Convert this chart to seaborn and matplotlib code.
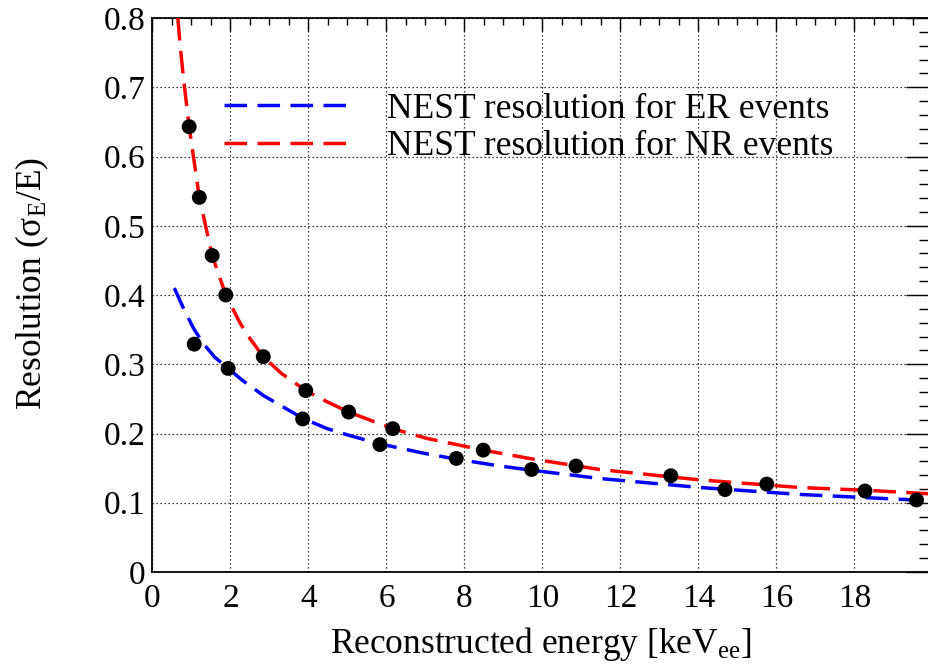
import numpy as np
import pandas as pd
import matplotlib
matplotlib.use("Agg")
import matplotlib.pyplot as plt
from matplotlib.ticker import MultipleLocator, FixedLocator, FuncFormatter
import seaborn as sns

# NEST resolution curves (energy in keVee, resolution sigma_E/E)
er_energy = [0.56, 0.80, 1.05, 1.30, 1.60, 1.94, 2.30, 2.84, 3.85, 4.48, 5.00,
             5.83, 7.00, 7.79, 8.91, 9.72, 11.47, 14.04, 16.60, 19.90]
er_resolution = [0.410, 0.380, 0.352, 0.330, 0.310, 0.294, 0.277, 0.255, 0.222,
                 0.207, 0.198, 0.185, 0.171, 0.163, 0.153, 0.147, 0.135, 0.122,
                 0.112, 0.103]

nr_energy = [0.65, 0.705, 0.79, 0.94, 1.20, 1.53, 1.88, 2.24, 2.50, 2.84, 3.30,
             3.93, 4.47, 5.03, 6.16, 7.03, 8.48, 9.76, 11.47, 14.04, 16.60,
             18.31, 19.90]
nr_resolution = [0.800, 0.763, 0.715, 0.643, 0.541, 0.457, 0.400, 0.360, 0.337,
                 0.311, 0.287, 0.262, 0.246, 0.231, 0.207, 0.193, 0.176, 0.163,
                 0.148, 0.133, 0.122, 0.118, 0.113]

# Measured resolution points
meas_energy = [0.94, 1.20, 1.53, 1.88, 1.07, 1.94, 2.84, 3.93, 3.85, 5.03, 5.83,
               6.16, 7.79, 8.48, 9.72, 10.86, 13.29, 14.68, 15.75, 18.27, 19.59]
meas_resolution = [0.643, 0.541, 0.457, 0.400, 0.329, 0.294, 0.311, 0.262, 0.221,
                   0.231, 0.184, 0.207, 0.164, 0.176, 0.148, 0.153, 0.139, 0.119,
                   0.127, 0.117, 0.104]

x_ticks = [0, 2, 4, 6, 8, 10, 12, 14, 16, 18]
y_ticks = [0.0, 0.1, 0.2, 0.3, 0.4, 0.5, 0.6, 0.7, 0.8]

er_label = "NEST resolution for ER events"
nr_label = "NEST resolution for NR events"

sns.set_style("white")
plt.rcParams["font.family"] = ["Liberation Serif", "DejaVu Serif"]
plt.rcParams["mathtext.fontset"] = "custom"
plt.rcParams["mathtext.rm"] = "Liberation Serif"
plt.rcParams["mathtext.it"] = "Liberation Serif:italic"
plt.rcParams["text.color"] = "black"
plt.rcParams["axes.labelcolor"] = "black"
plt.rcParams["xtick.color"] = "black"
plt.rcParams["ytick.color"] = "black"

fig = plt.figure(figsize=(9.29, 6.70), dpi=100)
ax = fig.add_axes([152.5 / 929, 98 / 670, 780 / 929, 554 / 670])

er_df = pd.DataFrame({"energy": er_energy, "resolution": er_resolution})
nr_df = pd.DataFrame({"energy": nr_energy, "resolution": nr_resolution})
meas_df = pd.DataFrame({"energy": meas_energy, "resolution": meas_resolution})

dash = (0, (6.5, 3.0))
sns.lineplot(data=er_df, x="energy", y="resolution", ax=ax, color="#0000ff",
             linewidth=2.5, linestyle=dash, label=er_label, sort=False, zorder=3)
sns.lineplot(data=nr_df, x="energy", y="resolution", ax=ax, color="#ff0000",
             linewidth=2.5, linestyle=dash, label=nr_label, sort=False, zorder=3)
sns.scatterplot(data=meas_df, x="energy", y="resolution", ax=ax, color="black",
                s=115, edgecolor="none", legend=False, zorder=4)

ax.set_xlim(0, 20)
ax.set_ylim(0, 0.8)

ax.xaxis.set_major_locator(FixedLocator(x_ticks))
ax.xaxis.set_minor_locator(MultipleLocator(0.5))
ax.yaxis.set_major_locator(FixedLocator(y_ticks))
ax.yaxis.set_minor_locator(MultipleLocator(0.02))
ax.yaxis.set_major_formatter(FuncFormatter(lambda v, p: "0" if abs(v) < 1e-9 else f"{v:.1f}"))
ax.xaxis.set_major_formatter(FuncFormatter(lambda v, p: f"{v:.0f}"))

ax.tick_params(axis="both", which="both", direction="in", top=True, right=True,
               color="black", width=1.0, labelsize=24, labelcolor="black")
ax.tick_params(axis="x", which="major", length=9.5, pad=8)
ax.tick_params(axis="x", which="minor", length=5)
ax.tick_params(axis="y", which="major", length=18.5, pad=5)
ax.tick_params(axis="y", which="minor", length=9.5)

for s in ax.spines.values():
    s.set_color("black")
    s.set_linewidth(1.3)

ax.grid(True, which="major", color="black", linestyle=(0, (1, 2.2)), linewidth=0.9)
ax.set_axisbelow(True)

ax.set_xlabel("Reconstructed energy [keV$_\\mathrm{ee}$]", fontsize=25.5)
ax.set_ylabel("Resolution (σ$_\\mathrm{E}$/E)", fontsize=25.5)
ax.xaxis.set_label_coords(0.498, -0.095)
ax.yaxis.set_label_coords(-0.13, 0.52)

ax.legend(loc="upper left", bbox_to_anchor=(0.0917, 0.865), frameon=False,
          fontsize=25.5, handlelength=3.6, handletextpad=1.0, labelspacing=0.12,
          borderpad=0.0, borderaxespad=0.0)

fig.savefig("out.png", dpi=100)
